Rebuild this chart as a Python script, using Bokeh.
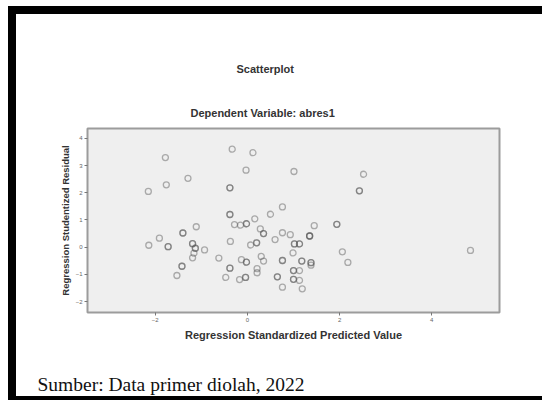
from bokeh.plotting import figure
from bokeh.models import FixedTicker, Title
from bokeh.layouts import column
from bokeh.embed import file_html
from bokeh.resources import INLINE

# ---- data ----
title_main = "Scatterplot"
title_sub = "Dependent Variable: abres1"
x_label = "Regression Standardized Predicted Value"
y_label = "Regression Studentized Residual"
source_note = "Sumber: Data primer diolah, 2022"

x_ticks = [-2, 0, 2, 4]
y_ticks = [-2, -1, 0, 1, 2, 3, 4]

# predicted values (x) and studentized residuals (y); repeated pairs are overlapping points
pred_values = [
    -2.15, -1.78, -1.76, -1.29, -0.33, 0.12, -0.03, -0.38, -0.38, 1.01,
    2.52, 2.43, 2.43, -0.38, -0.38, 0.50, 0.76, 0.16, -0.28, -0.15,
    -0.02, -0.02, 0.28, 0.35, 0.35, 0.76, 0.93, 0.60, 1.45, 1.94,
    1.94, 1.35, 1.35, 1.35, -1.11, -1.40, -1.40, -1.91, -2.14, -1.72,
    -1.72, -1.19, -1.19, -1.13, -1.13, -0.93, -1.16, -1.19, -0.37, 0.07,
    0.20, 0.20, 1.02, 1.02, 1.13, 1.13, 0.99, 2.06, 2.18, 4.84,
    -0.62, -0.13, -0.02, -0.02, 0.30, 0.35, 0.76, 0.76, 1.18, 1.18,
    1.38, 1.38, 1.38, 0.21, 0.21, 1.00, 1.00, 1.13, -1.42, -1.42,
    -1.53, -0.38, -0.38, -0.47, -0.17, -0.04, -0.04, 0.65, 0.65, 1.00,
    1.00, 1.13, 0.76, 1.19,
]
resid_values = [
    2.05, 3.29, 2.29, 2.53, 3.60, 3.47, 2.83, 2.18, 2.18, 2.78,
    2.68, 2.07, 2.07, 1.20, 1.20, 1.21, 1.48, 1.04, 0.83, 0.81,
    0.86, 0.86, 0.67, 0.50, 0.50, 0.53, 0.46, 0.28, 0.79, 0.84,
    0.84, 0.41, 0.41, 0.41, 0.75, 0.52, 0.52, 0.33, 0.07, 0.02,
    0.02, 0.13, 0.13, -0.04, -0.04, -0.10, -0.22, -0.39, 0.21, 0.08,
    0.16, 0.16, 0.12, 0.12, 0.12, 0.12, -0.21, -0.17, -0.56, -0.12,
    -0.40, -0.46, -0.55, -0.55, -0.34, -0.51, -0.49, -0.49, -0.51, -0.51,
    -0.57, -0.57, -0.66, -0.79, -0.94, -0.86, -0.86, -0.86, -0.70, -0.70,
    -1.04, -0.77, -0.77, -1.11, -1.19, -1.11, -1.11, -1.09, -1.09, -1.18,
    -1.18, -1.22, -1.47, -1.53,
]

# ---- figure ----
p = figure(
    width=526, height=382,
    x_range=(-3.47, 5.47), y_range=(-2.4, 4.36),
    output_backend="svg", toolbar_location=None,
    min_border_left=71, min_border_right=43,
    min_border_top=114, min_border_bottom=84,
)
p.background_fill_color = "#efefef"
p.border_fill_color = "white"
p.outline_line_color = "#9c9c9c"
p.outline_line_width = 2
p.grid.visible = False

p.xaxis.ticker = FixedTicker(ticks=x_ticks)
p.yaxis.ticker = FixedTicker(ticks=y_ticks)
for ax in (p.xaxis[0], p.yaxis[0]):
    ax.axis_line_color = None
    ax.major_tick_in = 0
    ax.major_tick_out = 3
    ax.major_tick_line_color = "#777777"
    ax.minor_tick_line_color = None
    ax.major_label_text_font = "Liberation Sans"
    ax.major_label_text_font_size = "6px"
    ax.major_label_text_color = "#666666"
    ax.major_label_standoff = 2
    ax.axis_label_text_font = "Liberation Sans"
    ax.axis_label_text_font_style = "bold"
    ax.axis_label_text_color = "#333333"

p.xaxis.axis_label = x_label
p.xaxis.axis_label_text_font_size = "11px"
p.xaxis.axis_label_standoff = 4
p.yaxis.axis_label = y_label
p.yaxis.axis_label_text_font_size = "9.5px"
p.yaxis.axis_label_standoff = 2

p.scatter(pred_values, resid_values, marker="circle", size=6,
          fill_color=None, line_color="#555555", line_alpha=0.45, line_width=1.3)

# headings (first added is nearest the plot area)
p.add_layout(Title(text=title_sub, align="left", offset=103, standoff=20,
                   text_font="Liberation Sans", text_font_style="bold",
                   text_font_size="11px", text_color="#333333"), "above")
p.add_layout(Title(text=title_main, align="left", offset=149, standoff=40,
                   text_font="Liberation Sans", text_font_style="bold",
                   text_font_size="11px", text_color="#333333"), "above")

# blank spacer between the axis title and the source note, then the note
p.add_layout(Title(text=" ", standoff=25, text_font_size="1px"), "below")
p.add_layout(Title(text=source_note, align="left", offset=-50, standoff=0,
                   text_font="Liberation Serif", text_font_style="normal",
                   text_font_size="19.5px", text_color="#111111"), "below")

layout = column(p, styles={"margin-top": "6px", "margin-left": "8px",
                           "border-top": "8px solid black",
                           "border-left": "8px solid black",
                           "border-bottom": "4px solid black"})

open("out.html", "w").write(file_html(layout, INLINE))
